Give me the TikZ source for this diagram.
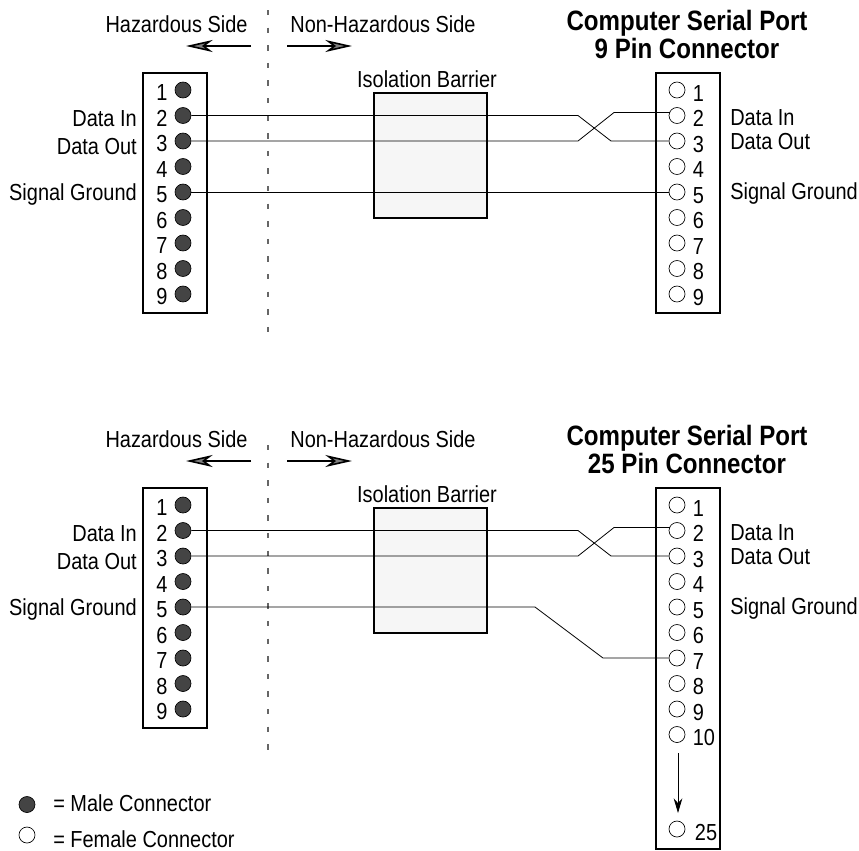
\documentclass[tikz,border=0pt]{standalone}
\usepackage{fontspec}
\setmainfont[FakeStretch=0.86]{Liberation Sans}
\usetikzlibrary{arrows.meta}
\definecolor{pindark}{HTML}{444444}
\definecolor{barrierfill}{HTML}{F6F6F6}
\tikzset{
  connector/.style={rectangle, draw=black, line width=1.5pt, anchor=north west, inner sep=0pt},
  barrier/.style={rectangle, draw=black, line width=1.5pt, fill=barrierfill, anchor=north west, inner sep=0pt},
  male/.style={circle, draw=black, fill=pindark, line width=0.5pt, minimum size=16*0.75pt, inner sep=0pt},
  female/.style={circle, draw=black, fill=white, line width=0.5pt, minimum size=16*0.75pt, inner sep=0pt},
  lbl/.style={font=\fontsize{17.4}{20}\selectfont, inner sep=0pt},
  title/.style={font=\fontsize{21}{23}\selectfont\bfseries, inner sep=0pt, align=center},
  wire/.style={line width=0.6pt, draw=black},
  side/.style={line width=1.5pt, -{Stealth[length=20pt, width=9pt, inset=6pt, line width=1.2pt, fill=gray]}},
}
\begin{document}
\begin{tikzpicture}[x=0.75pt,y=-0.75pt]
    \useasboundingbox (0,0) rectangle (859,850);

    % Draw both panels, the second one is 415 lower
    \foreach \p / \off / \pins / \ttl / \tall / \dtop / \dbot in {T/0/9/9/240/10/335,B/415/10/25/361/445/750} {
        \coordinate (\p-divtop) at (268,\dtop);
        \coordinate (\p-divbot) at (268,\dbot);
        \draw[line width=1pt, draw=black!60, dash pattern=on 4pt off 9.2pt] (\p-divtop) -- (\p-divbot);

        \node[lbl, anchor=base] (\p-haz) at (176.5,32+\off) {Hazardous Side};
        \node[lbl, anchor=base] (\p-non) at (383,32+\off) {Non-Hazardous Side};
        \coordinate (\p-hazs) at (251,46+\off);
        \coordinate (\p-haze) at (186,46+\off);
        \coordinate (\p-nons) at (287,46+\off);
        \coordinate (\p-none) at (352,46+\off);
        \draw[side] (\p-hazs) -- (\p-haze);
        \draw[side] (\p-nons) -- (\p-none);

        \node[lbl, anchor=base] (\p-iso) at (427,87+\off) {Isolation Barrier};
        \node[barrier, minimum width=113*0.75pt, minimum height=125*0.75pt] (\p-bar) at (373,92+\off) {};
        \node[title, anchor=base] (\p-ti) at (687,30.5+\off) {Computer Serial Port};
        \node[title, anchor=base] (\p-tj) at (687,58.5+\off) {\ttl\ Pin Connector};

        % Left connector with male pins
        \node[connector, minimum width=64*0.75pt, minimum height=240*0.75pt] (\p-left) at (142,72+\off) {};
        \foreach \name in {1,...,9} {
            \node[male] (\p-M\name) at (183,64.5+25.5*\name+\off) {};
            \node[lbl, anchor=base] (\p-Mn\name) at (162,75+25.5*\name+\off) {\name};
        }

        \node[lbl, anchor=base east] (\p-li) at (137,126+\off) {Data In};
        \node[lbl, anchor=base east] (\p-lo) at (137,154+\off) {Data Out};
        \node[lbl, anchor=base east] (\p-lg) at (137,200+\off) {Signal Ground};
        \node[lbl, anchor=base west] (\p-ri) at (730,125+\off) {Data In};
        \node[lbl, anchor=base west] (\p-ro) at (730,149+\off) {Data Out};
        \node[lbl, anchor=base west] (\p-rg) at (730,199+\off) {Signal Ground};

        % Right connector with female pins
        \node[connector, minimum width=64*0.75pt, minimum height=\tall*0.75pt] (\p-right) at (655,72+\off) {};
        \foreach \name in {1,...,\pins} {
            \node[female] (\p-F\name) at (677,64.5+25.5*\name+\off) {};
            \node[lbl, anchor=base west] (\p-Fn\name) at (692.5,75.5+25.5*\name+\off) {\name};
        }

        % Crossed data wires
        \coordinate (\p-a) at (578,115.5+\off);
        \coordinate (\p-b) at (611,141+\off);
        \coordinate (\p-c) at (578,141+\off);
        \coordinate (\p-d) at (614,112.5+\off);
        \coordinate (\p-e) at (670,112.5+\off);
        \draw[wire] (\p-M2) -- (\p-a) -- (\p-b) -- (\p-F3);
        \draw[wire] (\p-M3) -- (\p-c) -- (\p-d) -- (\p-e);
    }

    \draw[wire] (T-M5) -- (T-F5);

    % Signal ground on the 25 pin port goes to pin 7
    \coordinate (kneeA) at (535,607);
    \coordinate (kneeB) at (603,658);
    \draw[wire] (B-M5) -- (kneeA) -- (kneeB) -- (B-F7);

    \node[female] (B-F25) at (677,829) {};
    \node[lbl, anchor=base] (B-Fn25) at (706,840) {25};
    \coordinate (dots) at (678,753);
    \coordinate (dote) at (678,813);
    \draw[line width=0.6pt, -{Stealth[length=11pt, width=6.5pt]}] (dots) -- (dote);

    % Legend
    \node[male] (legM) at (27,804.5) {};
    \node[lbl, anchor=base west] (legMt) at (53,811) {= Male Connector};
    \node[female] (legF) at (27,835) {};
    \node[lbl, anchor=base west] (legFt) at (53,847) {= Female Connector};
\end{tikzpicture}
\end{document}
